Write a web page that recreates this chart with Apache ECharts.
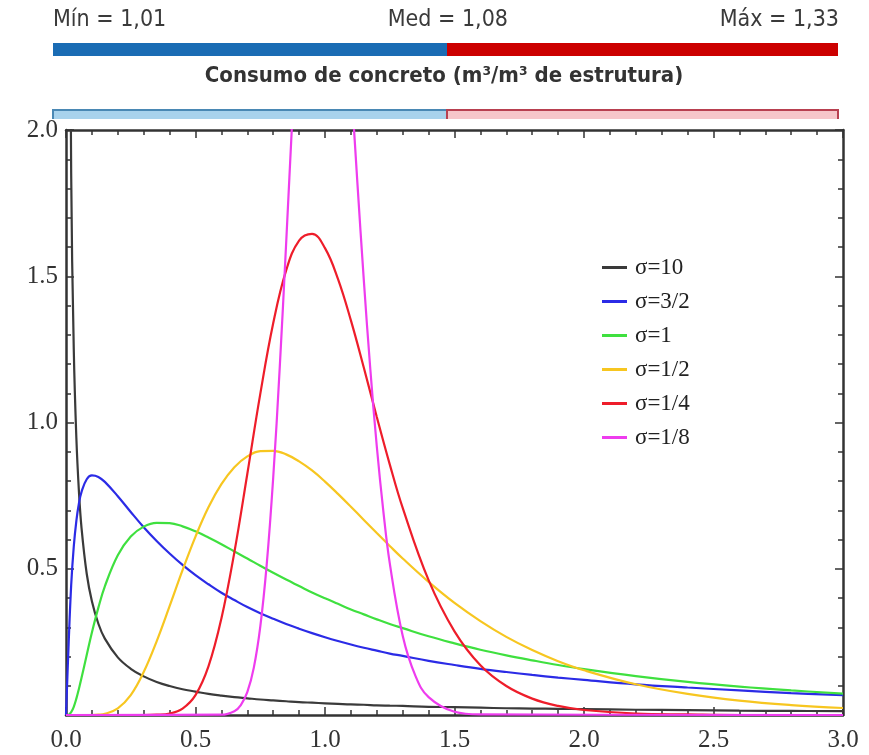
<!DOCTYPE html>
<html>
<head>
<meta charset="utf-8">
<script src="https://cdn.jsdelivr.net/npm/echarts@6/dist/echarts.min.js"></script>
<style>
  html, body { margin: 0; padding: 0; background: #fff; }
  #chart { width: 869px; height: 755px; }
</style>
</head>
<body>
<div id="chart"></div>
<script>
// x positions shared by most curves
const xGrid = [0, 0.01, 0.02, 0.03, 0.04, 0.05, 0.06, 0.08, 0.1, 0.125, 0.15,
  0.2, 0.25, 0.3, 0.35, 0.4, 0.45, 0.5, 0.55, 0.6, 0.65, 0.7, 0.75, 0.8, 0.85,
  0.9, 0.95, 1.0, 1.05, 1.1, 1.15, 1.2, 1.25, 1.3, 1.4, 1.5, 1.6, 1.7, 1.8,
  1.9, 2.0, 2.2, 2.4, 2.6, 2.8, 3.0]

const sigma10 = [null, 3.59, 1.85, 1.25, 0.947, 0.763, 0.639, 0.483, 0.389, 0.312, 0.261,
  0.197, 0.158, 0.132, 0.113, 0.099, 0.088, 0.080, 0.072, 0.066, 0.061, 0.057, 0.053, 0.050, 0.047,
  0.044, 0.042, 0.040, 0.038, 0.036, 0.035, 0.033, 0.032, 0.031, 0.028, 0.027, 0.025, 0.023, 0.022,
  0.021, 0.020, 0.018, 0.017, 0.015, 0.014, 0.013]

const sigma3_2 = [0, 0.239, 0.444, 0.576, 0.664, 0.724, 0.763, 0.806, 0.819, 0.814, 0.797,
  0.748, 0.694, 0.642, 0.595, 0.552, 0.513, 0.478, 0.447, 0.418, 0.393, 0.369, 0.348, 0.329, 0.311,
  0.295, 0.280, 0.266, 0.253, 0.241, 0.230, 0.220, 0.210, 0.202, 0.185, 0.171, 0.158, 0.147, 0.137,
  0.128, 0.120, 0.105, 0.094, 0.084, 0.075, 0.068]

const sigma1 = [0, 0.001, 0.010, 0.028, 0.056, 0.090, 0.127, 0.205, 0.282, 0.367, 0.440,
  0.546, 0.610, 0.644, 0.657, 0.656, 0.645, 0.628, 0.607, 0.584, 0.559, 0.535, 0.510, 0.486, 0.463,
  0.441, 0.419, 0.399, 0.380, 0.361, 0.344, 0.327, 0.311, 0.297, 0.269, 0.245, 0.223, 0.204, 0.187,
  0.171, 0.157, 0.133, 0.113, 0.097, 0.084, 0.073]

const sigma1_2 = [0, 0, 0, 0, 0, 0, 0, 0, 0, 0.001, 0.004,
  0.023, 0.068, 0.147, 0.252, 0.372, 0.495, 0.610, 0.710, 0.789, 0.847, 0.884, 0.902, 0.903, 0.891,
  0.867, 0.836, 0.798, 0.756, 0.712, 0.667, 0.622, 0.578, 0.535, 0.455, 0.383, 0.321, 0.267, 0.222,
  0.184, 0.153, 0.105, 0.072, 0.049, 0.034, 0.024]

const sigma1_4 = [0, 0, 0, 0, 0, 0, 0, 0, 0, 0, 0,
  0, 0, 0, 0.001, 0.005, 0.022, 0.068, 0.166, 0.330, 0.556, 0.824, 1.097, 1.339, 1.520,
  1.622, 1.645, 1.596, 1.491, 1.349, 1.187, 1.019, 0.857, 0.708, 0.461, 0.286, 0.170, 0.099, 0.056,
  0.031, 0.017, 0.005, 0.002, 0, 0, 0]

// the narrowest curve needs its own, finer x positions
const xNarrow = [0, 0.6, 0.65, 0.675, 0.7, 0.725, 0.75, 0.775, 0.8, 0.825, 0.85, 0.875,
  0.9, 0.95, 1.0, 1.05, 1.1, 1.125, 1.15, 1.175, 1.2, 1.225, 1.25, 1.3, 1.35, 1.4, 1.5, 1.6, 3.0]
const sigma1_8 = [0, 0.001, 0.013, 0.034, 0.078, 0.161, 0.301, 0.515, 0.811, 1.184, 1.613, 2.061,
  2.486, 3.09, 3.19, 2.816, 2.169, 1.820, 1.485, 1.182, 0.918, 0.699, 0.519, 0.271, 0.132, 0.061, 0.011, 0.002, 0]

const seriesNames = ['σ=10', 'σ=3/2', 'σ=1', 'σ=1/2', 'σ=1/4', 'σ=1/8']
const seriesColors = ['#3a3a3a', '#2b2be6', '#3fe03f', '#f7c620', '#ee1d2a', '#ee3cee']
const xTicks = [0, 0.5, 1.0, 1.5, 2.0, 2.5, 3.0]
const yTicks = [0.5, 1.0, 1.5, 2.0]

const headerStats = ['Mín = 1,01', 'Med = 1,08', 'Máx = 1,33']
const headerTitle = 'Consumo de concreto (m³/m³ de estrutura)'

const zip = (xs, ys) => xs.map((x, i) => [x, ys[i]])

const chart = echarts.init(document.getElementById('chart'))

const axisColor = '#333'
const serif = '"Liberation Serif", "Times New Roman", serif'
const narrow = '"Liberation Sans Narrow", "DejaVu Sans Condensed", sans-serif'

const boxAxis = (extra) => Object.assign({
  type: 'value',
  axisLine: { show: true, onZero: false, lineStyle: { color: axisColor, width: 2.5 } },
  axisTick: { show: true, inside: true, length: 8, lineStyle: { color: axisColor, width: 1.5 } },
  minorTick: { show: true, splitNumber: 5, length: 5, lineStyle: { color: axisColor, width: 1.5 } },
  splitLine: { show: false },
}, extra)

const option = {
  animation: false,
  backgroundColor: '#fff',
  grid: { left: 66, right: 26, top: 130, bottom: 40 },
  legend: {
    orient: 'vertical',
    left: 597,
    top: 251,
    itemWidth: 25,
    itemHeight: 3,
    itemGap: 11,
    icon: 'rect',
    data: seriesNames.map((name, i) => ({ name, itemStyle: { color: seriesColors[i] } })),
    textStyle: { fontFamily: serif, fontSize: 23, color: '#222', lineHeight: 23, padding: [0, 0, 0, 3] },
  },
  xAxis: [
    boxAxis({
      min: 0, max: 3, interval: 0.5, position: 'bottom',
      axisLabel: {
        margin: 13, fontFamily: serif, fontSize: 25, color: axisColor,
        formatter: (v) => (xTicks.includes(+v.toFixed(1)) ? v.toFixed(1) : ''),
      },
    }),
    boxAxis({ min: 0, max: 3, interval: 0.5, position: 'top', axisLabel: { show: false } }),
  ],
  yAxis: [
    boxAxis({
      min: 0, max: 2, interval: 0.5, position: 'left',
      axisLabel: {
        margin: 8, fontFamily: serif, fontSize: 25, color: axisColor,
        formatter: (v) => (yTicks.includes(+v.toFixed(1)) ? v.toFixed(1) : ''),
      },
    }),
    boxAxis({ min: 0, max: 2, interval: 0.5, position: 'right', axisLabel: { show: false } }),
  ],
  series: [
    [sigma10, xGrid], [sigma3_2, xGrid], [sigma1, xGrid],
    [sigma1_2, xGrid], [sigma1_4, xGrid], [sigma1_8, xNarrow],
  ].map(([ys, xs], i) => ({
    name: seriesNames[i],
    type: 'line',
    xAxisIndex: 0,
    yAxisIndex: 0,
    data: zip(xs, ys),
    showSymbol: false,
    symbol: 'none',
    smooth: 0.4,
    clip: true,
    lineStyle: { color: seriesColors[i], width: 2.2 },
    itemStyle: { color: seriesColors[i] },
  })),
  graphic: [
    { type: 'text', left: 53, top: 9, style: { text: headerStats[0], font: `23px ${narrow}`, fill: '#3a3a3a' } },
    { type: 'text', right: 869 - 508, top: 9, style: { text: headerStats[1], font: `23px ${narrow}`, fill: '#3a3a3a' } },
    { type: 'text', right: 869 - 839, top: 9, style: { text: headerStats[2], font: `23px ${narrow}`, fill: '#3a3a3a' } },
    { type: 'rect', shape: { x: 53, y: 43, width: 394, height: 13 }, style: { fill: '#1a6cb4' } },
    { type: 'rect', shape: { x: 447, y: 43, width: 391, height: 13 }, style: { fill: '#cc0000' } },
    {
      type: 'text', x: 444, y: 76,
      style: { text: headerTitle, font: 'bold 22px "DejaVu Sans Condensed", "Liberation Sans Narrow", sans-serif', fill: '#333', align: 'center', verticalAlign: 'middle' },
    },
    { type: 'rect', shape: { x: 53, y: 110, width: 394, height: 10 }, style: { fill: '#a8d2ec', stroke: '#4a88b4', lineWidth: 2 } },
    { type: 'rect', shape: { x: 447, y: 110, width: 391, height: 10 }, style: { fill: '#f6c6ca', stroke: '#b84050', lineWidth: 2 } },
    { type: 'rect', shape: { x: 40, y: 119, width: 820, height: 8 }, style: { fill: '#fff' } },
  ],
}

chart.setOption(option)
</script>
</body>
</html>
